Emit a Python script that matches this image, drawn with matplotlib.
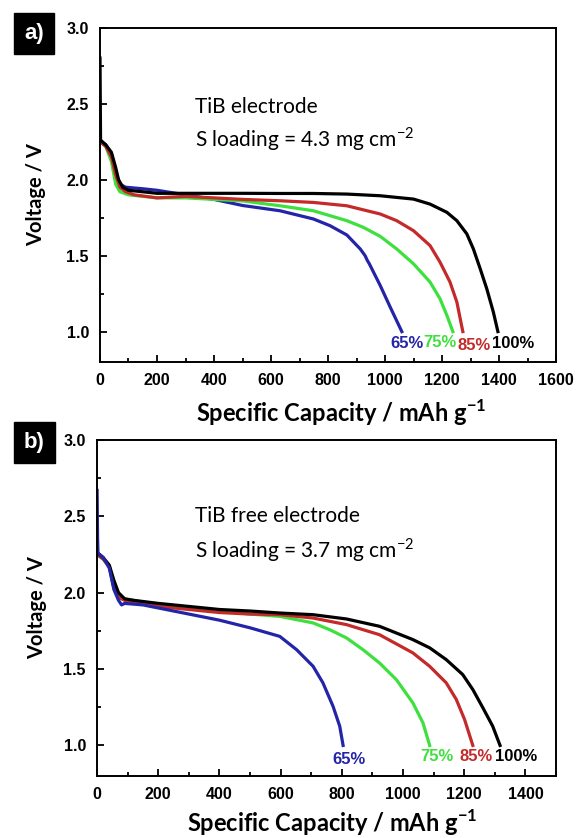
import matplotlib
matplotlib.use("Agg")
import matplotlib.pyplot as plt
from matplotlib.ticker import MultipleLocator

plt.rcParams['mathtext.fontset'] = 'custom'
plt.rcParams['mathtext.rm'] = 'Lato'
plt.rcParams['mathtext.bf'] = 'Lato:bold'

# panel a: TiB electrode
a_black_x = [0, 2, 20, 40, 55, 65, 80, 100, 150, 200, 300, 400, 500, 632, 749, 866, 983, 1041, 1100, 1158, 1217, 1252, 1287, 1310, 1334, 1357, 1380, 1396]
a_black_y = [2.80, 2.26, 2.23, 2.18, 2.08, 2.00, 1.95, 1.93, 1.92, 1.91, 1.91, 1.91, 1.91, 1.909, 1.909, 1.905, 1.894, 1.883, 1.872, 1.839, 1.785, 1.730, 1.643, 1.544, 1.413, 1.282, 1.129, 1.00]
a_red_x = [0, 20, 40, 55, 70, 90, 120, 200, 300, 400, 500, 632, 749, 866, 983, 1041, 1100, 1158, 1193, 1228, 1252, 1273]
a_red_y = [2.25, 2.22, 2.15, 2.03, 1.95, 1.92, 1.90, 1.88, 1.89, 1.88, 1.87, 1.861, 1.850, 1.828, 1.774, 1.730, 1.664, 1.566, 1.457, 1.326, 1.195, 1.00]
a_green_x = [0, 20, 40, 55, 70, 100, 200, 300, 400, 500, 632, 749, 866, 924, 983, 1041, 1100, 1158, 1193, 1217, 1238]
a_green_y = [2.25, 2.22, 2.12, 1.97, 1.92, 1.90, 1.88, 1.88, 1.87, 1.86, 1.828, 1.795, 1.730, 1.686, 1.627, 1.544, 1.446, 1.326, 1.216, 1.107, 1.00]
a_blue_x = [0, 20, 40, 55, 70, 90, 150, 200, 300, 400, 500, 632, 749, 807, 866, 913, 930, 938, 945, 983, 1018, 1059]
a_blue_y = [2.25, 2.23, 2.17, 2.05, 1.97, 1.95, 1.94, 1.93, 1.90, 1.87, 1.83, 1.795, 1.741, 1.697, 1.636, 1.544, 1.500, 1.468, 1.446, 1.304, 1.162, 1.00]

# panel b: TiB free electrode
b_black_x = [0, 2, 20, 40, 55, 70, 90, 120, 200, 300, 400, 500, 597, 706, 815, 923, 1032, 1087, 1141, 1195, 1228, 1261, 1293, 1317]
b_black_y = [2.45, 2.26, 2.23, 2.18, 2.08, 2.00, 1.96, 1.95, 1.93, 1.91, 1.89, 1.88, 1.867, 1.856, 1.828, 1.780, 1.693, 1.639, 1.562, 1.464, 1.366, 1.246, 1.126, 1.00]
b_red_x = [0, 20, 40, 55, 70, 90, 200, 300, 400, 500, 597, 706, 815, 923, 1032, 1087, 1141, 1174, 1201, 1228]
b_red_y = [2.25, 2.22, 2.17, 2.03, 1.97, 1.95, 1.91, 1.89, 1.87, 1.86, 1.856, 1.834, 1.791, 1.725, 1.606, 1.518, 1.410, 1.301, 1.170, 1.00]
b_green_x = [0, 20, 40, 55, 70, 90, 200, 300, 400, 500, 597, 706, 760, 815, 869, 923, 978, 1032, 1065, 1087]
b_green_y = [2.25, 2.22, 2.17, 2.03, 1.97, 1.96, 1.92, 1.90, 1.88, 1.86, 1.845, 1.802, 1.758, 1.704, 1.627, 1.540, 1.431, 1.279, 1.148, 1.00]
b_blue_x = [0, 2, 20, 40, 55, 70, 80, 90, 150, 200, 300, 400, 500, 597, 652, 706, 738, 771, 793, 804]
b_blue_y = [2.67, 2.26, 2.23, 2.16, 2.02, 1.95, 1.92, 1.93, 1.92, 1.90, 1.86, 1.82, 1.77, 1.714, 1.627, 1.518, 1.410, 1.257, 1.126, 1.00]

pct_labels = ['65%', '75%', '85%', '100%']
colors = ['#2424a8', '#3ee03e', '#c42a2a', 'black']
a_label_x = [1078, 1193, 1313, 1449]
a_label_y = [0.92, 0.93, 0.91, 0.92]
b_label_x = [822, 1109, 1240, 1370]
b_label_y = [0.91, 0.93, 0.93, 0.93]

tick_font = {'family': 'Liberation Sans', 'weight': 'bold', 'size': 11.5}

fig = plt.figure(figsize=(5.78, 8.38), dpi=100)
ax1 = fig.add_axes([0.173, 0.568, 0.789, 0.399])
ax2 = fig.add_axes([0.168, 0.074, 0.794, 0.401])


def style(ax, xmax, xticks, xlab_pos, ylab_x):
    ax.set_ylim(0.8, 3.0)
    ax.set_xlim(0, xmax)
    ax.set_xticks(xticks)
    ax.set_yticks([1.0, 1.5, 2.0, 2.5, 3.0])
    ax.xaxis.set_minor_locator(MultipleLocator(100))
    ax.yaxis.set_minor_locator(MultipleLocator(0.25))
    ax.tick_params(which='both', direction='in', top=False, right=False, width=1.3)
    ax.tick_params(which='major', length=5)
    ax.tick_params(which='minor', length=3)
    ax.tick_params(axis='y', pad=8)
    ax.tick_params(axis='x', pad=8)
    for s in ax.spines.values():
        s.set_linewidth(1.4)
    ax.set_xticklabels([str(t) for t in xticks], fontdict=tick_font)
    ax.set_yticklabels(['1.0', '1.5', '2.0', '2.5', '3.0'], fontdict=tick_font)
    ax.set_ylabel('Voltage / V', family='Lato', fontweight='bold', fontsize=14.5)
    ax.set_xlabel(r'Specific Capacity / mAh g$^{\mathbf{-1}}$', family='Lato', fontweight='bold', fontsize=17)
    ax.xaxis.set_label_coords(*xlab_pos)
    ax.yaxis.set_label_coords(ylab_x, 0.5)


lw = 2.3
for xs, ys, c in zip([a_blue_x, a_green_x, a_red_x, a_black_x],
                     [a_blue_y, a_green_y, a_red_y, a_black_y], colors):
    ax1.plot(xs, ys, color=c, lw=lw, solid_joinstyle='round')
for xs, ys, c in zip([b_green_x, b_red_x, b_black_x, b_blue_x],
                     [b_green_y, b_red_y, b_black_y, b_blue_y],
                     [colors[1], colors[2], colors[3], colors[0]]):
    ax2.plot(xs, ys, color=c, lw=lw, solid_joinstyle='round')

style(ax1, 1600, list(range(0, 1601, 200)), (0.529, -0.106), -0.118)
style(ax2, 1500, list(range(0, 1401, 200)), (0.512, -0.093), -0.110)

for t, c, x, y in zip(pct_labels, colors, a_label_x, a_label_y):
    ax1.text(x, y, t, color=c, ha='center', va='center', fontsize=12, fontweight='bold', family='Liberation Sans')
for t, c, x, y in zip(pct_labels, colors, b_label_x, b_label_y):
    ax2.text(x, y, t, color=c, ha='center', va='center', fontsize=12, fontweight='bold', family='Liberation Sans')

ax1.text(333, 2.48, 'TiB electrode', fontsize=15, family='Lato', va='center')
ax1.text(333, 2.27, r'S loading = 4.3 mg cm$^{-2}$', fontsize=15, family='Lato', va='center')
ax2.text(320, 2.50, 'TiB free electrode', fontsize=15, family='Lato', va='center')
ax2.text(320, 2.28, r'S loading = 3.7 mg cm$^{-2}$', fontsize=15, family='Lato', va='center')

box = dict(boxstyle='square,pad=0.45', facecolor='black', edgecolor='black')
fig.text(0.059, 0.960, 'a)', color='white', fontsize=16, fontweight='bold', family='Liberation Sans',
         ha='center', va='center', bbox=box)
fig.text(0.059, 0.472, 'b)', color='white', fontsize=16, fontweight='bold', family='Liberation Sans',
         ha='center', va='center', bbox=box)

fig.savefig('out.png', dpi=100)
